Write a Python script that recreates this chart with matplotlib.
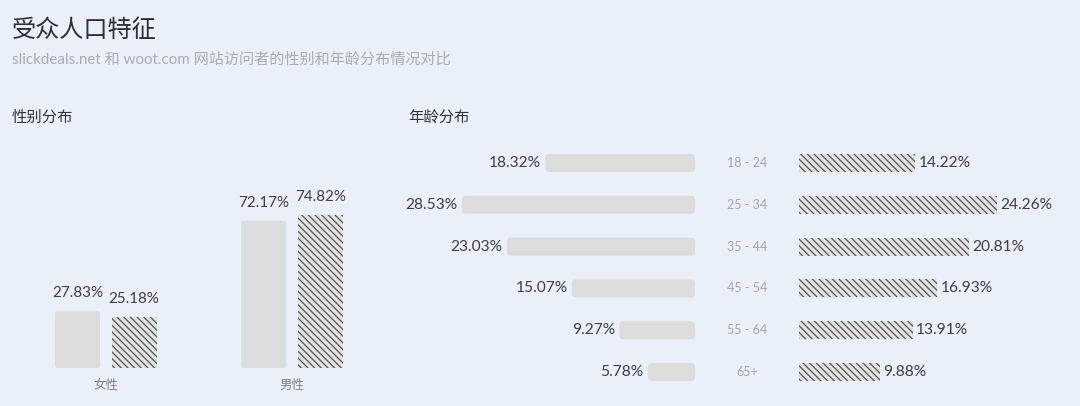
import matplotlib.pyplot as plt
from matplotlib.patches import FancyBboxPatch
from matplotlib.transforms import IdentityTransform

plt.rcParams['font.family'] = ['Lato', 'Noto Sans CJK SC', 'DejaVu Sans']
plt.rcParams['hatch.linewidth'] = 0.7

title = '受众人口特征'
subtitle = 'slickdeals.net 和 woot.com 网站访问者的性别和年龄分布情况对比'
gender_title = '性别分布'
age_title = '年龄分布'

genders = ['女性', '男性']
slick_gender = [27.83, 72.17]
woot_gender = [25.18, 74.82]

ages = ['18 - 24', '25 - 34', '35 - 44', '45 - 54', '55 - 64', '65+']
slick_age = [18.32, 28.53, 23.03, 15.07, 9.27, 5.78]
woot_age = [14.22, 24.26, 20.81, 16.93, 13.91, 9.88]

W, H, DPI = 1080, 406, 120
BG = '#e9f0fa'
SOLID = '#dcdcdc'
HATCH_BG = '#e2e2e2'
HATCH_LN = '#4a4a4a'
TXT = '#3b3f47'
HATCH = '\\' * 6

fig = plt.figure(figsize=(W / DPI, H / DPI), dpi=DPI, facecolor=BG)


def px_axes(x0, y0, x1, y1):
    # box in pixels, y counted from the top
    ax = fig.add_axes([x0 / W, 1 - y1 / H, (x1 - x0) / W, (y1 - y0) / H])
    ax.set_facecolor('none')
    ax.axis('off')
    return ax


def round_bars(ax, bars, r):
    # swap plain rectangles for rounded ones (radius in pixels)
    for b in bars:
        pts = ax.transData.transform([(b.get_x(), b.get_y()),
                                      (b.get_x() + b.get_width(), b.get_y() + b.get_height())])
        x0, x1 = sorted(pts[:, 0])
        y0, y1 = sorted(pts[:, 1])
        p = FancyBboxPatch((x0, y0), x1 - x0, y1 - y0,
                           boxstyle=f'round,pad=0,rounding_size={r}',
                           transform=IdentityTransform(), fc=b.get_facecolor(),
                           ec='none', clip_on=False)
        ax.add_artist(p)
        b.set_visible(False)


def ftext(x, y, s, **kw):
    fig.text(x / W, 1 - y / H, s, **kw)


ftext(12, 30, title, fontsize=14.5, color='#2b2f36', va='center')
ftext(12, 60, subtitle, fontsize=9.1, color='#a9adb4', va='center')
ftext(12, 118, gender_title, fontsize=9.2, color='#2f333a', va='center')
ftext(408, 118, age_title, fontsize=9.2, color='#2f333a', va='center')

# gender
ax = px_axes(20, 150, 380, 368)
ax.set_xlim(-0.4604, 1.4725)
ax.set_ylim(0, 106.9)
xs = range(len(genders))
off, bw = 0.1517, 0.2416
b1 = ax.bar([x - off for x in xs], slick_gender, bw, color=SOLID, linewidth=0)
b2 = ax.bar([x + off for x in xs], woot_gender, bw, color=HATCH_BG,
            edgecolor=HATCH_LN, hatch=HATCH, linewidth=0)
round_bars(ax, b1, 2.5)
for x, v in zip(xs, slick_gender):
    ax.annotate(f'{v:.2f}%', (x - off, v), xytext=(0, 8.4), textcoords='offset points',
                ha='center', va='baseline', fontsize=9.1, color=TXT)
for x, v in zip(xs, woot_gender):
    ax.annotate(f'{v:.2f}%', (x + off, v), xytext=(0, 8.4), textcoords='offset points',
                ha='center', va='baseline', fontsize=9.1, color=TXT)
for x, g in zip(xs, genders):
    ax.annotate(g, (x, 0), xytext=(0, -10), textcoords='offset points',
                ha='center', va='center', fontsize=7.5, color='#7a7e85')

# age
yl = (5.55, -0.55)
axl = px_axes(400, 140, 695, 395)
axl.set_xlim(36.1, 0)
axl.set_ylim(*yl)
axm = px_axes(695, 140, 799, 395)
axm.set_xlim(0, 1)
axm.set_ylim(*yl)
axr = px_axes(799, 140, 1075, 395)
axr.set_xlim(0, 33.78)
axr.set_ylim(*yl)

ys = range(len(ages))
bh = 0.43
bl = axl.barh(ys, slick_age, bh, color=SOLID, linewidth=0)
axr.barh(ys, woot_age, bh, color=HATCH_BG, edgecolor=HATCH_LN, hatch=HATCH, linewidth=0)
round_bars(axl, bl, 4)

for y, v in zip(ys, slick_age):
    axl.annotate(f'{v:.2f}%', (v, y), xytext=(-2.5, 0), textcoords='offset points',
                 ha='right', va='center', fontsize=9.3, color=TXT)
for y, v in zip(ys, woot_age):
    axr.annotate(f'{v:.2f}%', (v, y), xytext=(2, 0), textcoords='offset points',
                 ha='left', va='center', fontsize=9.3, color=TXT)
for y, a in zip(ys, ages):
    axm.text(0.5, y, a, ha='center', va='center', fontsize=7.5, color='#a2a6ad')

fig.savefig('out.png', dpi=DPI, facecolor=BG)
